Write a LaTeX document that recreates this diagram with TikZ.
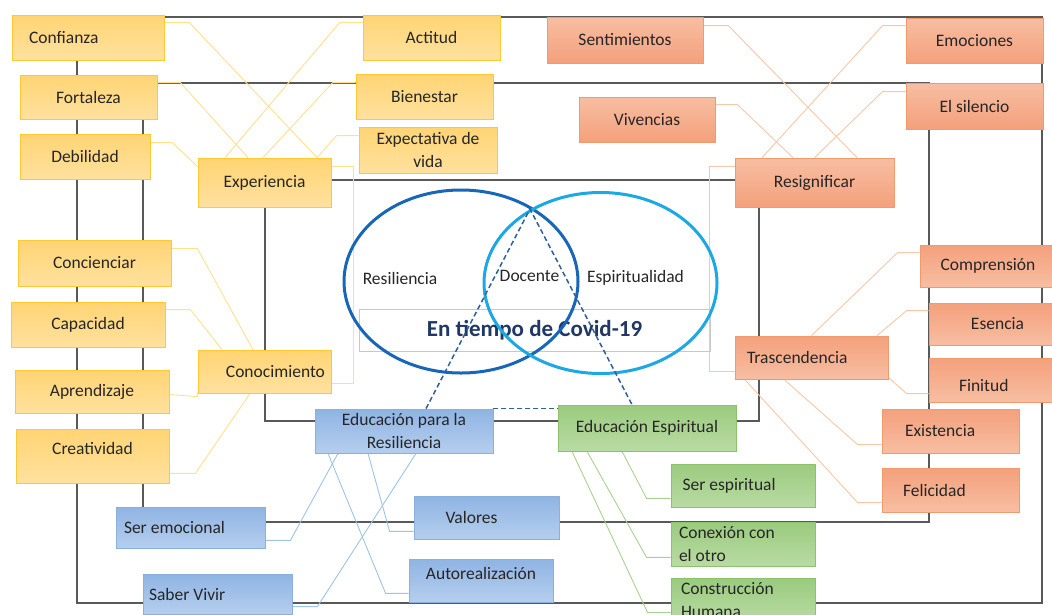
\documentclass[tikz,border=0pt]{standalone}
\usepackage{fontspec}
\setmainfont{Carlito}
\usepackage{tikz}
\usetikzlibrary{shapes.geometric,backgrounds}
\definecolor{txtdark}{HTML}{262626}
\definecolor{framegray}{HTML}{595959}
\definecolor{yeltop}{HTML}{FFD473}
\definecolor{yelbot}{HTML}{FFE19F}
\definecolor{yeledge}{HTML}{FFC936}
\definecolor{yellink}{HTML}{FFE08C}
\definecolor{oratop}{HTML}{F4A07C}
\definecolor{orabot}{HTML}{F7BEA2}
\definecolor{oraedge}{HTML}{F19A6B}
\definecolor{oralink}{HTML}{F8C7A8}
\definecolor{blutop}{HTML}{8FB4E3}
\definecolor{blubot}{HTML}{B5CEEE}
\definecolor{bluedge}{HTML}{8AB0DE}
\definecolor{blulink}{HTML}{9DC3E6}
\definecolor{grntop}{HTML}{9ACB7E}
\definecolor{grnbot}{HTML}{B9DBA4}
\definecolor{grnedge}{HTML}{8CC26C}
\definecolor{grnlink}{HTML}{A9D18E}
\definecolor{vennres}{HTML}{1766B8}
\definecolor{vennesp}{HTML}{1BA8E4}
\definecolor{covnavy}{HTML}{203864}
\definecolor{covgray}{HTML}{C8C8C8}
\definecolor{dashblue}{HTML}{2F5F9C}

\begin{document}
\begin{tikzpicture}[x=1pt, y=-1pt,
    concept/.style={rectangle, draw, line width=0.8pt, text=txtdark, inner sep=2pt, align=flush center, font=\fontsize{17.5}{23.5}\selectfont},
    yelbox/.style={concept, draw=yeledge, top color=yeltop, bottom color=yelbot},
    orabox/.style={concept, draw=oraedge, top color=oratop, bottom color=orabot},
    orarev/.style={concept, draw=oraedge, top color=orabot, bottom color=oratop},
    blubox/.style={concept, draw=bluedge, top color=blutop, bottom color=blubot},
    grnbox/.style={concept, draw=grnedge, top color=grntop, bottom color=grnbot},
    boxsize/.style 2 args={minimum width=#1pt, minimum height=#2pt},
    frame/.style={draw=framegray, line width=1.6pt},
    yline/.style={draw=yellink, line width=0.9pt},
    oline/.style={draw=oralink, line width=0.9pt},
    bline/.style={draw=blulink, line width=0.9pt},
    gline/.style={draw=grnlink, line width=0.9pt},
    venn/.style={ellipse, draw, line width=3pt, inner sep=0pt},
    vennlabel/.style={text=txtdark, font=\fontsize{17.5}{21}\selectfont},
    dashlink/.style={draw=dashblue, line width=1.5pt, dash pattern=on 5pt off 3pt}
]
\useasboundingbox (0,0) rectangle (1052,614);

% Resiliencia side
\node[yelbox, boxsize={152}{45}, text width=118pt, align=flush left] (conf) at (88,37.5) {Confianza};
\node[yelbox, boxsize={137}{44}] (fort) at (88.5,97) {Fortaleza};
\node[yelbox, boxsize={130}{45}] (debil) at (85,156.5) {Debilidad};
\node[yelbox, boxsize={133}{49}] (exper) at (264.5,182.5) {Experiencia};
\node[yelbox, boxsize={137}{45}] (actit) at (431.5,37.5) {Actitud};
\node[yelbox, boxsize={137}{45}] (bienes) at (424.5,96.5) {Bienestar};
\node[yelbox, boxsize={138}{46}] (expect) at (428,150) {Expectativa de\\vida};
\node[yelbox, boxsize={153}{46}] (concien) at (94.5,263) {Concienciar};
\node[yelbox, boxsize={154}{45}] (capac) at (88,324.5) {Capacidad};
\node[yelbox, boxsize={133}{43}, text width=121pt, align=flush right] (conoc) at (264.5,371.5) {Conocimiento};
\node[yelbox, boxsize={154}{43}] (aprend) at (92,391.5) {Aprendizaje};
\node[yelbox, boxsize={153}{54}] (creat) at (92.5,456) {\raisebox{8pt}[\height][\depth]{Creatividad}};

% Espiritualidad side
\node[orarev, boxsize={156}{46}] (sentim) at (625,40) {Sentimientos};
\node[orarev, boxsize={136}{45}] (vivenc) at (647,119.5) {Vivencias};
\node[orarev, boxsize={137}{45}] (emoc) at (974.5,40.5) {Emociones};
\node[orarev, boxsize={137}{46}] (silenc) at (974.5,106) {El silencio};
\node[orarev, boxsize={159}{49}] (resig) at (814.5,182.5) {Resignificar};
\node[orabox, boxsize={136}{42}] (compr) at (988,266) {Comprensión};
\node[orabox, boxsize={137}{42}] (esenc) at (997.5,324) {Esencia};
\node[orabox, boxsize={137}{44}, text width=77pt, align=flush left] (finit) at (997.5,380) {\raisebox{-5pt}[\height][\depth]{Finitud}};
\node[orabox, boxsize={153}{43}, text width=129pt, align=flush left] (trasc) at (811.5,357.5) {Trascendencia};
\node[orabox, boxsize={137}{44}, text width=91pt, align=flush left] (exist) at (950.5,431) {Existencia};
\node[orabox, boxsize={137}{44}, text width=95pt, align=flush left] (felic) at (950.5,490) {Felicidad};

% Educacion
\node[blubox, boxsize={178}{44}] (edures) at (404,431) {Educación para la\\Resiliencia};
\node[blubox, boxsize={149}{41}, text width=133pt, align=flush left] (seremo) at (190.5,527.5) {Ser emocional};
\node[blubox, boxsize={149}{40}, text width=137pt, align=flush left] (saber) at (217.5,594) {Saber Vivir};
\node[blubox, boxsize={145}{43}, text width=82pt, align=flush left] (valor) at (486.5,517.5) {Valores};
\node[blubox, boxsize={144}{43}] (autor) at (481,580.5) {\raisebox{7pt}[\height][\depth]{Autorealización}};
\node[grnbox, boxsize={178}{46}] (edesp) at (647,428) {Educación Espiritual};
\node[grnbox, boxsize={144}{43}, text width=121pt, align=flush left] (seresp) at (743,485.5) {Ser espiritual};
\node[grnbox, boxsize={144}{44}, text width=128pt, align=flush left] (conex) at (743,544) {Conexión con\\el otro};
\node[grnbox, boxsize={144}{44}, text width=124pt, align=flush left] (constr) at (743,600) {Construcción\\Humana};

% Venn
\node[draw=covgray, line width=0.8pt, boxsize={351}{42}, text=covnavy, font=\bfseries\fontsize{23}{27}\selectfont] (covid) at (534.5,330) {En tiempo de Covid-19};
\node[venn, draw=vennres, boxsize={234}{183}] (resil) at (461,281.5) {};
\node[venn, draw=vennesp, boxsize={233}{181}] (espir) at (600.5,283) {};
\node[vennlabel] (resillab) at (400,278) {Resiliencia};
\node[vennlabel] (docente) at (529.5,276) {Docente};
\node[vennlabel] (espirlab) at (635.5,278) {Espiritualidad};
\coordinate (apex) at (530,209);

\draw[dashlink] ([xshift=22pt]edures.north) -- (apex) -- ([xshift=-15pt]edesp.north);
\draw[dashlink] (edures.north east) -- (edures.north east -| edesp.west);

\begin{scope}[on background layer]
% Frames
\draw[frame] (77,17) rectangle (1042,603);
\draw[frame] (143,83) rectangle (929,522);
\draw[frame] (265,180) rectangle (759,421);

% Yellow links
\draw[yline] ([yshift=-8pt]conf.north east) -- ++(25,0) -- ([xshift=52.5pt]exper.north);
\draw[yline] ([yshift=-8pt]fort.north east) -- ++(23,0) -- ([xshift=-16.5pt]exper.north);
\draw[yline] ([yshift=-9pt]debil.north east) -- ++(22,0) -- ([yshift=-9pt]exper.north west);
\draw[yline] ([yshift=-8pt]actit.north west) -- ++(-23,0) -- ([xshift=-39.5pt]exper.north);
\draw[yline] ([yshift=-9pt]bienes.north west) -- ++(-23,0) -- ([xshift=-1.5pt]exper.north);
\draw[yline] ([yshift=-9pt]expect.north west) -- ++(-22,0) -- ([xshift=52.5pt]exper.north);
\draw[yline] ([yshift=-9pt]exper.north east) -- ++(22,0) |- ([yshift=-34pt]conoc.north east);
\draw[yline] ([yshift=-9pt]concien.north east) -- ++(26,0) -- ([xshift=-11.5pt]conoc.north);
\draw[yline] ([yshift=-8pt]capac.north east) -- ++(25,0) -- ([xshift=-42.5pt]conoc.north);
\draw[yline] ([yshift=-25pt]aprend.north east) -- ++(28,2) -- ([yshift=1pt]conoc.south west);
\draw[yline] ([yshift=10pt]creat.south east) -- ++(26,0) -- ([xshift=-14.5pt]conoc.south);

% Orange links
\draw[oline] ([yshift=-9pt]sentim.north east) -- ++(25,0) -- ([xshift=42.5pt]resig.north);
\draw[oline] ([yshift=-8pt]emoc.north west) -- ++(-23,0) -- ([xshift=-52.5pt]resig.north);
\draw[oline] ([yshift=-8pt]vivenc.north east) -- ++(22,0) -- ([xshift=-21.5pt]resig.north);
\draw[oline] ([yshift=-9pt]silenc.north west) -- ++(-23,0) -- (resig.north);
\draw[oline] ([yshift=-9pt]resig.north west) -- ++(-25,0) |- ([yshift=8pt]trasc.south west);
\draw[oline] (trasc.north) -- ([xshift=-22pt,yshift=-8pt]compr.north west) -- ([yshift=-8pt]compr.north west);
\draw[oline] ([xshift=65.5pt]trasc.north) -- ([xshift=-22pt,yshift=-8pt]esenc.north west) -- ([yshift=-8pt]esenc.north west);
\draw[oline] ([yshift=2pt]trasc.south east) -- ([xshift=-22pt,yshift=-36pt]finit.north west) -- ([yshift=-36pt]finit.north west);
\draw[oline] ([xshift=-27.5pt]trasc.south) -- ([xshift=-24pt,yshift=-36pt]exist.north west) -- ([yshift=-36pt]exist.north west);
\draw[oline] ([xshift=10pt]trasc.south west) -- ([xshift=-24pt,yshift=-35pt]felic.north west) -- ([yshift=-35pt]felic.north west);

% Green links
\draw[gline] ([xshift=-25pt]edesp.south) -- ([xshift=-24pt,yshift=9pt]seresp.south west) -- ([yshift=9pt]seresp.south west);
\draw[gline] ([xshift=-60pt]edesp.south) -- ([xshift=-24pt,yshift=9pt]conex.south west) -- ([yshift=9pt]conex.south west);
\draw[gline] ([xshift=-75pt]edesp.south) -- ([xshift=-23pt,yshift=-35pt]constr.north west) -- ([yshift=-35pt]constr.north west);

% Blue links
\draw[bline] ([xshift=-66pt]edures.south) -- ([xshift=25pt,yshift=8pt]seremo.south east) -- ([yshift=8pt]seremo.south east);
\draw[bline] ([xshift=12pt]edures.south) -- ([xshift=25pt,yshift=-33pt]saber.north east) -- ([yshift=-33pt]saber.north east);
\draw[bline] ([xshift=-76pt]edures.south) -- ([xshift=-23pt,yshift=9pt]autor.south west) -- ([yshift=9pt]autor.south west);
\draw[bline] ([xshift=-36pt]edures.south) -- ([xshift=-24pt,yshift=8pt]valor.south west) -- ([yshift=8pt]valor.south west);
\end{scope}

\end{tikzpicture}
\end{document}
